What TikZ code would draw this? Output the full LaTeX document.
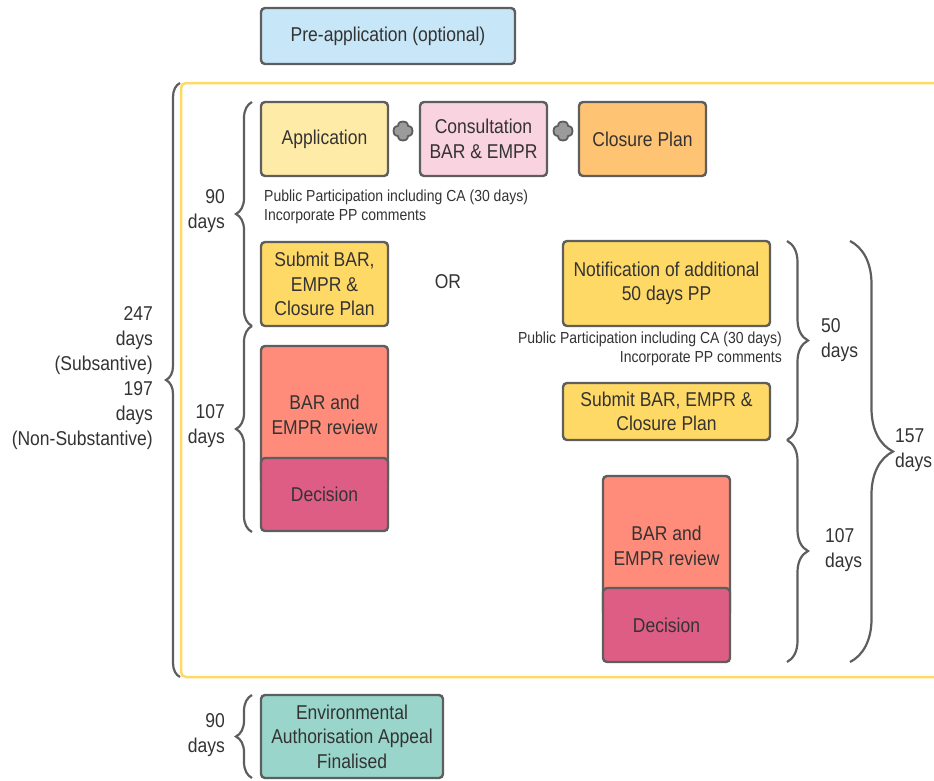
\documentclass[tikz,border=0pt]{standalone}
\usepackage{fontspec}
\setmainfont{Liberation Sans}[FakeStretch=0.875]
\usetikzlibrary{decorations.pathreplacing}
\definecolor{bordc}{HTML}{5E5E5E}
\definecolor{txtc}{HTML}{333333}
\definecolor{framec}{HTML}{FFD966}
\definecolor{preblue}{HTML}{C7E6F7}
\definecolor{appyel}{HTML}{FFEBA8}
\definecolor{conpink}{HTML}{F9D3DF}
\definecolor{closor}{HTML}{FFC374}
\definecolor{subyel}{HTML}{FFD966}
\definecolor{revsal}{HTML}{FF8C7B}
\definecolor{decred}{HTML}{DE5D84}
\definecolor{envteal}{HTML}{99D5CA}
\definecolor{plusg}{HTML}{9B9B9B}
\tikzset{
  box/.style={draw=bordc, line width=2.4pt, rounded corners=4pt, align=center,
    text=txtc, font=\fontsize{20}{24.5}\selectfont, inner sep=0pt},
  lbl/.style={text=txtc, font=\fontsize{20}{25}\selectfont, inner sep=0pt},
  smalltxt/.style={text=txtc, font=\fontsize{16}{19}\selectfont, inner sep=0pt},
  brc/.style={draw=bordc, line width=2.2pt, decorate, decoration={brace, amplitude=#1}},
  pluspic/.pic={
    \draw[fill=plusg, draw=bordc, line width=1.8pt, line join=round]
      (-4.8,-6.5) .. controls (-4.8,-10.5) and (4.8,-10.5) .. (4.8,-6.5)
      -- (4.9,-4.9) --
      (6.5,-4.8) .. controls (10.5,-4.8) and (10.5,4.8) .. (6.5,4.8)
      -- (4.9,4.9) --
      (4.8,6.5) .. controls (4.8,10.5) and (-4.8,10.5) .. (-4.8,6.5)
      -- (-4.9,4.9) --
      (-6.5,4.8) .. controls (-10.5,4.8) and (-10.5,-4.8) .. (-6.5,-4.8)
      -- (-4.9,-4.9) -- cycle;
  }
}
\begin{document}
\begin{tikzpicture}[x=1pt,y=-1pt]
\useasboundingbox (0,0) rectangle (934,780);
% yellow frame
\draw[framec, line width=2.5pt, rounded corners=5pt] (936,83) -- (181,83) -- (181,677) -- (936,677);

% boxes
\node[box, fill=preblue, minimum width=254, minimum height=56] (pre) at (388,36) {Pre-application (optional)};
\node[box, fill=appyel, minimum width=127, minimum height=74] (app) at (324.5,139) {Application};
\node[box, fill=conpink, minimum width=127, minimum height=74] (cons) at (483.5,139) {Consultation\\BAR \& EMPR};
\node[box, fill=closor, minimum width=127, minimum height=74] (clos) at (642.5,139) {Closure Plan};
\node[inner sep=0pt, minimum size=19] (plusA) at (403,131) {};
\node[inner sep=0pt, minimum size=19] (plusB) at (563,131) {};
\pic at (plusA) {pluspic};
\pic at (plusB) {pluspic};

\node[smalltxt, anchor=west, align=left] (ppL) at (264,206.5) {Public Participation including CA (30 days)\\Incorporate PP comments};

\node[box, fill=subyel, minimum width=127, minimum height=84] (subL) at (324.5,284) {Submit BAR,\\EMPR \&\\Closure Plan};
\node[lbl] (or) at (448,282) {OR};
\node[box, fill=revsal, minimum width=127, minimum height=138] (revL) at (324.5,415) {BAR and\\EMPR review};
\node[box, fill=decred, minimum width=127, minimum height=73] (decL) at (324.5,494.5) {Decision};

\node[box, fill=subyel, minimum width=207, minimum height=85] (notif) at (666.5,283.5) {Notification of additional\\50 days PP};
\node[smalltxt, anchor=east, align=right] (ppR) at (782,348.5) {Public Participation including CA (30 days)\\Incorporate PP comments};
\node[box, fill=subyel, minimum width=207, minimum height=57] (subR) at (666.5,411.5) {Submit BAR, EMPR \&\\Closure Plan};
\node[box, fill=revsal, minimum width=127, minimum height=140] (revR) at (666.5,546) {BAR and\\EMPR review};
\node[box, fill=decred, minimum width=127, minimum height=74] (decR) at (666.5,625) {Decision};

\node[box, fill=envteal, minimum width=182, minimum height=83] (env) at (352,736.5) {Environmental\\Authorisation Appeal\\Finalised};

% labels
\node[lbl, anchor=east, align=right] (l247) at (153,378) {247\\days\\(Subsantive)\\197\\days\\(Non-Substantive)};
\node[lbl, anchor=east, align=right] (l90a) at (225,211) {90\\days};
\node[lbl, anchor=east, align=right] (l107a) at (225,426.5) {107\\days};
\node[lbl, anchor=west, align=left] (l50) at (821,340.5) {50\\days};
\node[lbl, anchor=west, align=left] (l107b) at (825,550.5) {107\\days};
\node[lbl, anchor=west, align=left] (l157) at (895,450.5) {157\\days};
\node[lbl, anchor=east, align=right] (l90b) at (225,735.5) {90\\days};

% brace end points
\coordinate (bBigT) at (180,83);
\coordinate (bBigB) at (180,677);
\coordinate (b90T) at (252,102);
\coordinate (bMidL) at (252,326);
\coordinate (b107B) at (252,532);
\coordinate (bEnvT) at (252,695);
\coordinate (bEnvB) at (252,778);
\coordinate (bRT) at (787,241);
\coordinate (bRM) at (787,440);
\coordinate (bRB) at (787,662);
\coordinate (b157T) at (850,241);
\coordinate (b157B) at (850,662);

\draw[brc=14] (bBigB) -- (bBigT);
\draw[brc=16] (bMidL) -- (b90T);
\draw[brc=16] (b107B) -- (bMidL);
\draw[brc=16] (bEnvB) -- (bEnvT);
\draw[brc=21] (bRT) -- (bRM);
\draw[brc=21] (bRM) -- (bRB);
\draw[brc=43] (b157T) -- (b157B);
\end{tikzpicture}
\end{document}
